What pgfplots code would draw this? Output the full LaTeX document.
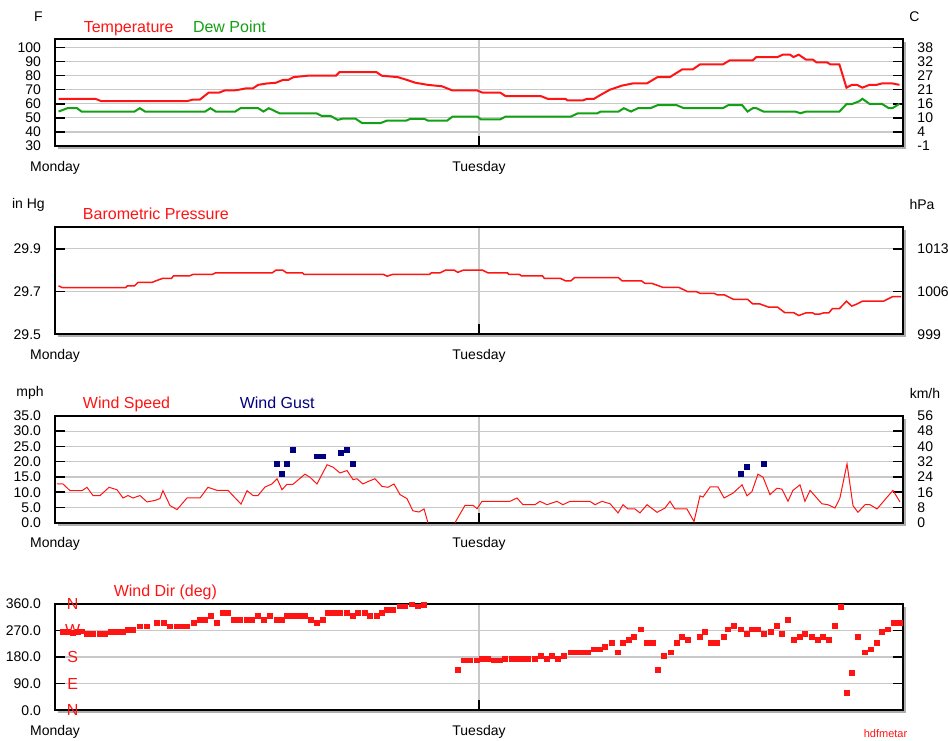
\documentclass[border=0pt]{standalone}
\usepackage{fontspec}
\setmainfont{Liberation Sans}
\usepackage{pgfplots}
\pgfplotsset{compat=1.18}
\definecolor{tred}{RGB}{255,20,20}
\definecolor{dgreen}{RGB}{20,160,20}
\definecolor{gnavy}{RGB}{0,0,128}
\definecolor{gridgray}{RGB}{200,200,200}
\definecolor{shadowgray}{RGB}{175,175,175}
\newcommand\tf{\fontsize{7}{8}\selectfont}
\newcommand\hf{\fontsize{8}{9}\selectfont}
\pgfplotsset{
 panel/.style={scale only axis, width=424pt, height=53.4pt, anchor=south west,
  xmin=0,xmax=48, xtick={0,24}, xticklabels={Monday,Tuesday},
  xtick pos=left, ytick pos=both, yticklabel pos=left, tick align=inside,
  major tick length=5pt, ymajorgrids, xmajorgrids,
  grid style={gridgray, line width=0.6pt},
  axis line style={black, line width=1pt},
  every tick/.style={black, line width=0.7pt},
  ticklabel style={font=\tf},
  yticklabel style={xshift=-3.5pt},
  xticklabel style={yshift=-3.9pt},
  axis background/.style={fill=white},
  unbounded coords=jump,
 },
 rlab/.style={scale only axis, width=424pt, height=53.4pt, anchor=south west,
  xmin=0,xmax=48, hide x axis, axis y line*=right, y axis line style={draw=none},
  major tick length=0pt, ticklabel style={font=\tf}, yticklabel style={xshift=3.7pt}},
}
\begin{document}
\begin{tikzpicture}
\path[use as bounding box] (0,0) rectangle (474pt,370pt);
% shadows
\fill[shadowgray] (29pt,295.5pt) rectangle (453pt,348.9pt);
\fill[shadowgray] (29pt,201.35pt) rectangle (453pt,254.75pt);
\fill[shadowgray] (29pt,107.15pt) rectangle (453pt,160.55pt);
\fill[shadowgray] (29pt,13.35pt) rectangle (453pt,66.75pt);

% ---------- Panel 1: Temperature / Dew point
\begin{axis}[panel, at={(27.5pt,297pt)}, ymin=30, ymax=106,
  ytick={30,40,50,60,70,80,90,100}, yticklabels={30,40,50,60,70,80,90,100}]
\addplot[tred, line width=1pt] coordinates {
(0.2,63.5)(2.3,63.5)(2.6,62)(7.5,62)(7.8,63)(8.2,63)(8.7,68)(9.3,68)(9.6,69.5)(10.1,69.5)(10.4,70)(10.8,71)(11.2,71)(11.5,73.5)(12.0,74.5)(12.5,75)(12.9,77)(13.2,77)(13.5,79)(14.3,80)(15.9,80)(16.1,82.5)(18.2,82.5)(18.5,80)(19.4,79)(19.8,77.5)(20.4,75)(21.1,73.5)(21.9,72.5)(22.5,69.5)(23.9,69.5)(24.2,68)(25.2,68)(25.5,65.5)(27.5,65.5)(27.9,63.5)(28.9,63.5)(29.0,62.5)(29.9,62.5)(30.1,63.5)(30.5,63.5)(30.9,66.5)(31.4,70)(32.1,73)(32.7,74.5)(33.5,74.5)(34.1,79)(34.8,79)(35.5,84.5)(36.1,84.5)(36.5,88)(37.8,88)(38.2,91)(39.5,91)(39.7,93.3)(40.9,93.3)(41.2,95)(41.6,95)(41.8,93.3)(42.1,95)(42.5,91.5)(42.9,91.5)(43.1,89.5)(43.7,89.5)(43.9,88)(44.4,88)(44.8,71.5)(45.1,73.5)(45.4,73.5)(45.7,71.5)(46.1,73.5)(46.5,73.5)(46.8,74.5)(47.4,74.5)(47.8,73.5)};
\addplot[dgreen, line width=1pt] coordinates {
(0.2,54.5)(0.7,56.9)(1.25,56.9)(1.5,54.5)(4.5,54.5)(4.8,56.9)(5.1,54.5)(8.5,54.5)(8.8,56.9)(9.1,54.5)(10.2,54.5)(10.5,56.9)(11.5,56.9)(11.8,54.5)(12.1,56.9)(12.7,53.3)(14.8,53.3)(15.1,51.4)(15.6,51.4)(16.0,48.6)(16.3,49.5)(17.0,49.5)(17.4,46.2)(18.4,46.2)(18.8,48.1)(19.9,48.1)(20.1,49.3)(20.9,49.3)(21.1,48.1)(22.2,48.1)(22.5,50.9)(23.9,50.9)(24.1,49)(25.2,49)(25.5,50.9)(29.2,50.9)(29.6,53.3)(30.7,53.3)(30.9,54.5)(31.9,54.5)(32.2,56.9)(32.6,54.5)(33.0,56.9)(33.7,56.9)(34.1,59)(35.2,59)(35.6,56.9)(37.8,56.9)(38.1,59)(38.9,59)(39.2,54.5)(39.5,56.9)(39.7,56.9)(40.1,54.5)(41.9,54.5)(42.2,53.3)(42.5,54.5)(44.4,54.5)(44.8,59.8)(45.1,59.8)(45.5,61.7)(45.7,63.6)(46.1,60)(46.8,60)(47.2,56.9)(47.4,56.9)(47.8,60)};
\end{axis}
\begin{axis}[rlab, at={(27.5pt,297pt)}, ymin=30, ymax=106,
  ytick={30,40,50,60,70,80,90,100}, yticklabels={-1,4,10,16,21,27,32,38}]
\end{axis}

% ---------- Panel 2: Pressure
\begin{axis}[panel, at={(27.5pt,202.85pt)}, ymin=29.5, ymax=30.0,
  ytick={29.5,29.7,29.9}, yticklabels={29.5,29.7,29.9}]
\addplot[tred, line width=0.75pt] coordinates {
(0.2,29.727)(0.4,29.719)(4.0,29.719)(4.1,29.727)(4.5,29.727)(4.7,29.743)(5.5,29.743)(5.7,29.75)(6.1,29.762)(6.6,29.762)(6.7,29.773)(7.6,29.773)(7.8,29.78)(8.9,29.78)(9.1,29.788)(12.3,29.788)(12.5,29.80)(12.9,29.80)(13.1,29.788)(14.0,29.788)(14.1,29.78)(18.6,29.78)(18.8,29.772)(19.1,29.78)(21.2,29.78)(21.3,29.788)(21.8,29.788)(22.1,29.80)(22.6,29.80)(22.8,29.79)(23.1,29.80)(24.2,29.80)(24.5,29.788)(25.6,29.788)(25.7,29.78)(26.3,29.78)(26.4,29.773)(27.6,29.773)(27.7,29.762)(28.6,29.762)(28.9,29.75)(29.2,29.75)(29.4,29.765)(31.9,29.765)(32.1,29.75)(33.2,29.75)(33.4,29.738)(33.8,29.738)(34.4,29.72)(35.3,29.72)(35.8,29.70)(36.3,29.70)(36.5,29.692)(37.3,29.692)(37.5,29.684)(37.9,29.684)(38.4,29.664)(39.2,29.664)(39.5,29.642)(39.9,29.642)(40.4,29.627)(40.9,29.627)(41.3,29.602)(41.8,29.602)(42.1,29.588)(42.5,29.60)(42.9,29.60)(43.0,29.595)(43.3,29.595)(43.5,29.60)(43.8,29.60)(44.0,29.62)(44.4,29.62)(44.8,29.655)(45.1,29.632)(45.4,29.642)(45.7,29.655)(46.9,29.655)(47.4,29.676)(47.9,29.676)};
\end{axis}
\begin{axis}[rlab, at={(27.5pt,202.85pt)}, ymin=29.5, ymax=30.0,
  ytick={29.5,29.7,29.9}, yticklabels={999,1006,1013}]
\end{axis}

% ---------- Panel 3: Wind speed / gust
\begin{axis}[panel, at={(27.5pt,108.65pt)}, ymin=0, ymax=35,
  ytick={0,5,10,15,20,25,30,35}, yticklabels={0.0,5.0,10.0,15.0,20.0,25.0,30.0,35.0}]
\addplot[tred, line width=0.5pt] coordinates {
(0.1,12.7)(0.45,12.7)(0.85,10.5)(1.53,10.5)(1.81,11.6)(2.15,8.9)(2.55,8.9)(3.06,11.6)(3.51,10.8)(3.85,8.1)(4.13,8.9)(4.42,8.1)(4.81,8.9)(5.21,6.8)(5.66,7.3)(5.94,7.9)(6.11,10.5)(6.51,5.6)(6.91,4.3)(7.47,8.1)(8.21,8.1)(8.66,11.6)(9.17,10.6)(9.79,10.6)(10.53,6.1)(10.87,10.5)(11.21,8.9)(11.49,8.9)(11.89,11.7)(12.28,12.7)(12.57,14.4)(12.85,10.8)(13.13,12.6)(13.47,12.6)(14.15,15.9)(14.43,14.9)(14.83,12.7)(15.4,19.0)(15.74,18.2)(16.13,16.3)(16.53,17.1)(16.87,14.1)(17.09,14.4)(17.43,12.7)(17.72,13.5)(18.11,14.4)(18.51,11.9)(18.85,11.6)(19.19,12.7)(19.53,9.2)(19.92,7.9)(20.26,3.9)(20.6,3.5)(20.89,4.5)(21.11,0)(21.8,nan)(22.64,0)(23.21,5.7)(23.66,5.7)(23.89,4.6)(24.17,7.0)(25.75,7.0)(26.15,8.1)(26.49,5.9)(27.17,5.9)(27.45,7.0)(27.85,5.9)(28.41,7.0)(28.75,5.9)(29.15,7.0)(30.28,7.0)(30.57,5.9)(30.96,7.0)(31.42,6.2)(31.87,3.2)(32.15,5.9)(32.43,4.5)(32.83,4.5)(33.11,3.2)(33.51,5.9)(34.08,3.4)(34.53,4.8)(34.81,7.0)(35.09,4.5)(35.77,4.5)(36.17,0.4)(36.51,8.8)(36.68,8.4)(37.08,11.7)(37.53,11.7)(37.87,8.1)(38.38,9.7)(38.89,12.4)(39.17,8.8)(39.45,10.2)(39.79,15.9)(40.08,14.9)(40.47,9.2)(40.87,11.3)(41.15,11.0)(41.49,7.0)(41.77,10.6)(42.17,12.4)(42.45,7.0)(42.74,10.6)(43.41,6.2)(43.75,5.9)(44.15,4.8)(44.43,8.1)(44.83,19.3)(45.17,5.6)(45.45,3.4)(45.85,5.9)(46.13,5.9)(46.53,4.5)(47.43,10.6)(47.83,6.8)};
\addplot[only marks, mark=square*, mark size=1.2pt, gnavy] coordinates {
(12.57,19.2)(12.85,16.1)(13.13,19.2)(13.47,23.8)(14.83,21.7)(15.17,21.7)(16.19,22.8)(16.53,23.8)(16.87,19.2)(38.83,16.1)(39.17,18.2)(40.13,19.2)};
\end{axis}
\begin{axis}[rlab, at={(27.5pt,108.65pt)}, ymin=0, ymax=35,
  ytick={0,5,10,15,20,25,30,35}, yticklabels={0,8,16,24,32,40,48,56}]
\end{axis}

% ---------- Panel 4: Wind direction
\begin{axis}[panel, at={(27.5pt,14.85pt)}, ymin=0, ymax=360, clip mode=individual,
  ytick={0,90,180,270,360}, yticklabels={0.0,90.0,180.0,270.0,360.0}]
\addplot[only marks, mark=square*, mark size=1.2pt, tred] coordinates {
(0.45,263)(0.74,263)(1.02,260)(1.30,263)(1.53,266)(1.81,257)(2.15,257)(2.55,257)(2.83,257)(3.17,263)(3.51,263)(3.85,263)(4.13,272)(4.42,272)(4.81,283)(5.21,283)(5.77,295)(6.17,295)(6.51,283)(6.91,283)(7.19,283)(7.47,283)(7.87,295)(8.21,306)(8.49,306)(8.83,317)(9.17,295)(9.51,327)(9.79,327)(10.13,306)(10.47,306)(10.87,306)(11.15,306)(11.49,317)(11.83,306)(12.17,317)(12.57,306)(12.85,306)(13.13,317)(13.47,317)(13.81,317)(14.15,317)(14.49,306)(14.83,295)(15.17,306)(15.45,327)(15.79,327)(16.13,327)(16.53,327)(16.87,317)(17.15,327)(17.55,327)(17.83,317)(18.23,317)(18.51,327)(18.79,339)(19.13,339)(19.53,350)(19.81,350)(20.21,357)(20.55,350)(20.89,355)(22.81,137)(23.15,168)(23.49,168)(23.89,168)(24.17,174)(24.51,174)(24.85,168)(25.19,168)(25.47,174)(25.87,174)(26.15,174)(26.49,174)(26.77,174)(27.17,174)(27.51,184)(27.85,174)(28.13,184)(28.47,174)(28.81,184)(29.21,195)(29.55,195)(29.89,195)(30.17,195)(30.51,205)(30.85,205)(31.13,215)(31.53,226)(31.87,195)(32.15,226)(32.49,238)(32.77,248)(33.17,273)(33.51,226)(33.85,226)(34.13,137)(34.47,184)(34.87,195)(35.21,226)(35.49,248)(35.83,238)(36.51,248)(36.79,263)(37.13,226)(37.47,226)(37.87,248)(38.09,273)(38.43,285)(38.83,273)(39.17,258)(39.45,273)(39.79,273)(40.13,258)(40.53,263)(40.87,285)(41.15,258)(41.49,305)(41.83,238)(42.17,248)(42.45,258)(42.85,248)(43.19,238)(43.47,248)(43.81,238)(44.15,285)(44.49,348)(44.83,58)(45.11,126)(45.45,248)(45.85,195)(46.19,205)(46.53,226)(46.81,263)(47.15,273)(47.49,295)(47.83,295)};
\foreach \d/\y in {N/360,W/270,S/180,E/90,N/0}{
  \edef\tmp{\noexpand\node[tred, font=\noexpand\hf, inner sep=0pt] at (axis cs:1.0,\y) {\d};}\tmp
}
\end{axis}

% ---------- Texts
\node[anchor=base west, font=\tf, inner sep=0pt] at (16.8pt,359.2pt) {F};
\node[anchor=base west, font=\tf, inner sep=0pt] at (454.5pt,359.2pt) {C};
\node[anchor=base west, font=\hf, text=tred, inner sep=0pt] at (41.7pt,353.7pt) {Temperature};
\node[anchor=base west, font=\hf, text=dgreen, inner sep=0pt] at (96.3pt,353.7pt) {Dew Point};
\node[anchor=base west, font=\tf, inner sep=0pt] at (5.8pt,265.8pt) {in Hg};
\node[anchor=base west, font=\tf, inner sep=0pt] at (454.6pt,265.3pt) {hPa};
\node[anchor=base west, font=\hf, text=tred, inner sep=0pt] at (41.3pt,260pt) {Barometric Pressure};
\node[anchor=base west, font=\tf, inner sep=0pt] at (8pt,171.7pt) {mph};
\node[anchor=base west, font=\tf, inner sep=0pt] at (454.7pt,170.8pt) {km/h};
\node[anchor=base west, font=\hf, text=tred, inner sep=0pt] at (41.3pt,165.8pt) {Wind Speed};
\node[anchor=base west, font=\hf, text=gnavy, inner sep=0pt] at (119.7pt,165.8pt) {Wind Gust};
\node[anchor=base west, font=\hf, text=tred, inner sep=0pt] at (56.7pt,71.7pt) {Wind Dir (deg)};
\node[anchor=base west, font=\fontsize{5.5}{6}\selectfont, text=tred, inner sep=0pt] at (431.7pt,1.3pt) {hdfmetar};
\end{tikzpicture}
\end{document}
